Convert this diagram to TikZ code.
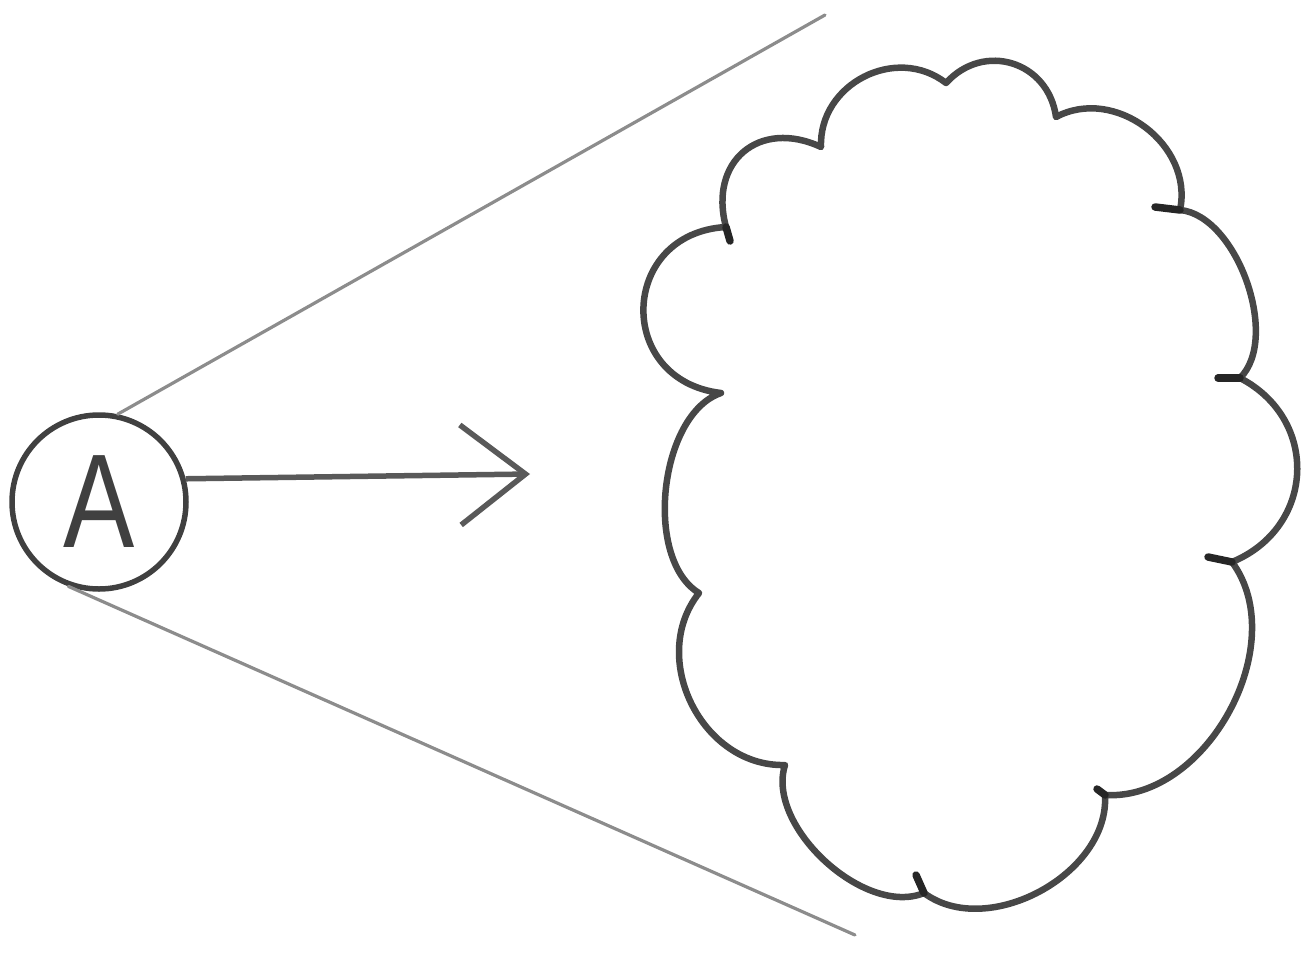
\documentclass[tikz,border=0pt]{standalone}
\usepackage{fontspec}
\setmainfont{Liberation Sans}
\newfontfamily\handfont[FakeStretch=0.8]{Liberation Sans}
\usetikzlibrary{arrows.meta}

\begin{document}
\begin{tikzpicture}[
    x=0.1mm, y=-0.1mm,
    pencil/.style={draw=black!72, line width=0.65mm, line cap=round, line join=round},
    faint/.style={draw=black!45, line width=0.32mm, line cap=round},
    agent/.style={circle, draw=black!75, line width=0.55mm, minimum size=17.4mm, inner sep=0pt,
        text=black!75, font=\handfont\fontsize{38}{38}\selectfont},
    push/.style={-{Straight Barb[length=6.5mm, width=10mm]}, draw=black!65, line width=0.55mm},
    bump/.style={bend left=65, looseness=#1},
    tick/.style={draw=black!85, line width=0.75mm, line cap=round}
]
\useasboundingbox (0,0) rectangle (1313,952);
\node[agent] (A) at (99,502) {A};

% the cone of view
\coordinate (farTop) at (825,15);
\coordinate (farBottom) at (855,935);
\draw[faint] (A.78) -- (farTop);
\draw[faint] (A.250) -- (farBottom);

% the cloud, cusp by cusp
\coordinate (c1) at (721,393);
\coordinate (c2) at (726,227);
\coordinate (c3) at (821,147);
\coordinate (c4) at (946,83);
\coordinate (c5) at (1056,117);
\coordinate (c6) at (1180,210);
\coordinate (c7) at (1240,378);
\coordinate (c8) at (1232,562);
\coordinate (c9) at (1105,795);
\coordinate (c10) at (924,893);
\coordinate (c11) at (785,765);
\coordinate (c12) at (699,593);
\draw[pencil] (c1) to[bump=1.65, bend left=85] (c2) to[bump=1.4] (c3) to[bump=1.15] (c4)
    to[bump=1.25] (c5) to[bump=1.1] (c6) to[bump=0.82] (c7) to[bump=1.25] (c8)
    to[bump=0.98] (c9) to[bump=0.98] (c10) to[bump=0.87] (c11) to[bump=1.1] (c12)
    to[bump=0.83] (c1);
\draw[tick] (c2) -- ++(4,14);
\draw[tick] (c6) -- ++(-25,-3);
\draw[tick] (c7) -- ++(-22,0);
\draw[tick] (c8) -- ++(-24,-5);
\draw[tick] (c9) -- ++(-8,-6);
\draw[tick] (c10) -- ++(-8,-18);

% the push towards it
\coordinate (arrowTip) at (530,474);
\draw[push] (A.15) -- (arrowTip);
\end{tikzpicture}
\end{document}
